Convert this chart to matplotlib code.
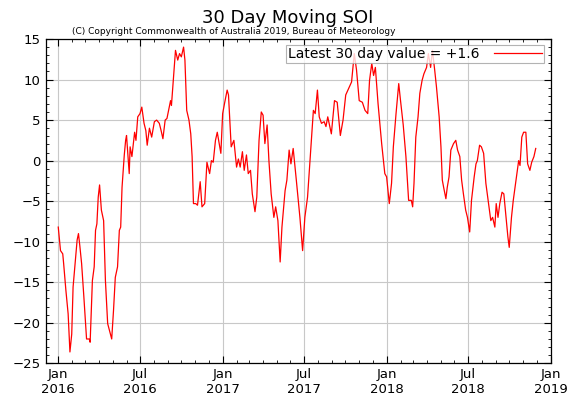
import numpy as np
import matplotlib
matplotlib.use("Agg")
import matplotlib.pyplot as plt
import matplotlib.dates as mdates
from matplotlib.ticker import MultipleLocator

# days since 2016-01-01, 30-day SOI value
days = [0, 5, 10, 12, 17, 22, 26, 30, 33, 38, 42, 45, 48, 52, 57, 63, 69, 71, 76, 80,
        83, 86, 89, 92, 96, 101, 105, 110, 116, 119, 123, 127, 132, 136, 139, 142, 147, 150, 152, 158,
        160, 164, 170, 173, 177, 182, 186, 191, 195, 198, 203, 208, 214, 219, 225, 229, 233, 238, 242, 247,
        250, 252, 256, 259, 261, 266, 270, 274, 279, 282, 286, 291, 295, 298, 301, 306, 310, 316, 320, 326,
        331, 337, 341, 345, 350, 354, 362, 366, 370, 376, 379, 385, 391, 397, 401, 405, 410, 414, 419, 423,
        428, 432, 438, 442, 447, 452, 456, 460, 465, 469, 474, 480, 484, 489, 494, 498, 505, 509, 514, 518,
        523, 530, 538, 544, 549, 555, 562, 568, 572, 577, 581, 586, 592, 596, 600, 608, 615, 621, 628, 634,
        640, 648, 653, 659, 664, 670, 677, 683, 689, 693, 698, 702, 706, 712, 720, 727, 731, 737, 742, 746,
        752, 758, 762, 768, 774, 780, 786, 789, 792, 796, 801, 805, 810, 814, 820, 824, 829, 833, 838, 842,
        848, 852, 855, 858, 863, 866, 870, 874, 880, 885, 889, 894, 898, 902, 907, 911, 916, 920, 926, 930,
        933, 938, 942, 947, 952, 958, 963, 967, 972, 975, 979, 983, 988, 992, 997, 1001, 1004, 1009, 1013, 1019,
        1025, 1028, 1032, 1036, 1041, 1045, 1050, 1054, 1059, 1063]
soi = [-8.2, -11.1, -11.5, -12.7, -16.0, -18.9, -23.6, -21.4, -15.6, -12.3, -9.8, -9.0, -10.5, -12.7, -16.8, -22.0, -22.0, -22.4, -14.8, -13.1,
       -8.6, -7.8, -4.5, -3.0, -6.1, -7.4, -14.8, -20.1, -21.4, -22.0, -18.5, -14.4, -13.1, -8.6, -8.2, -3.3, 0.7, 2.5, 3.1, -1.6,
       1.7, 0.5, 3.5, 2.5, 5.4, 5.8, 6.6, 4.6, 3.7, 1.9, 4.0, 2.9, 4.8, 5.0, 4.6, 3.7, 2.7, 5.0, 5.2, 6.6,
       7.4, 6.8, 9.9, 12.4, 13.6, 12.4, 13.2, 12.8, 14.0, 12.4, 6.2, 5.0, 3.3, 0.5, -5.3, -5.3, -5.5, -2.6, -5.7, -5.3,
       -0.2, -1.6, 0.0, -0.2, 2.5, 3.5, 0.9, 5.8, 7.0, 8.7, 8.1, 1.7, 2.5, -0.8, 0.2, -0.8, 1.1, -1.2, 0.7, -1.6,
       -1.2, -4.1, -6.3, -4.5, 2.5, 6.0, 5.6, 2.1, 4.4, 0.0, -4.1, -7.0, -5.7, -7.4, -12.5, -8.2, -3.7, -2.4, 1.3, -0.4,
       1.5, -2.4, -7.0, -11.1, -7.0, -4.5, 1.3, 6.2, 5.8, 8.7, 5.4, 4.6, 4.8, 4.2, 5.4, 3.3, 7.4, 7.2, 3.1, 5.0,
       8.1, 9.1, 9.7, 13.2, 11.2, 7.4, 7.2, 6.2, 5.8, 9.9, 12.0, 10.5, 11.5, 7.0, 2.1, -1.6, -2.0, -5.3, -2.8, 1.7,
       5.8, 9.5, 7.4, 4.4, 0.5, -4.9, -4.9, -5.7, -2.8, 2.9, 5.4, 8.3, 9.9, 10.7, 11.5, 13.2, 11.5, 13.6, 11.2, 9.1,
       5.4, 1.7, -2.4, -3.3, -4.7, -3.3, -2.0, 1.3, 2.1, 2.5, 1.3, 0.5, -2.4, -4.1, -6.1, -7.0, -8.8, -4.9, -2.0, -0.4,
       0.0, 1.9, 1.7, 0.9, -2.8, -5.3, -7.4, -7.0, -8.2, -5.3, -7.0, -5.3, -3.9, -4.1, -7.0, -9.4, -10.7, -7.0, -4.9, -2.4,
       0.0, -0.6, 2.9, 3.5, 3.5, -0.4, -1.2, -0.2, 0.5, 1.5]
latest = "+1.6"

dates = np.datetime64("2016-01-01") + np.array(days).astype("timedelta64[D]")

fig = plt.figure(figsize=(5.76, 4.03), dpi=100)
ax = fig.add_axes([0.0793, 0.0985, 0.8773, 0.8047])

ax.plot(dates, soi, color="red", lw=0.9, label=f"Latest 30 day value = {latest}")
ax.axhline(0, color="#808080", lw=0.8, zorder=1)

ax.set_ylim(-25, 15)
ax.set_xlim(np.datetime64("2015-12-04"), np.datetime64("2019-01-02"))
ax.yaxis.set_major_locator(MultipleLocator(5))
ax.yaxis.set_minor_locator(MultipleLocator(1))
ax.xaxis.set_major_locator(mdates.MonthLocator(bymonth=[1, 7]))
ax.xaxis.set_minor_locator(mdates.MonthLocator())
ax.xaxis.set_major_formatter(mdates.DateFormatter("%b\n%Y"))
ax.grid(True, which="major", color="#c8c8c8", lw=0.8)
ax.tick_params(which="both", direction="in", top=True, right=True, labelsize=9.5)
ax.tick_params(which="major", length=5)
ax.tick_params(which="minor", length=2.5)
for s in ax.spines.values():
    s.set_linewidth(0.9)

fig.text(0.5, 0.955, "30 Day Moving SOI", ha="center", va="center", fontsize=13)
fig.text(0.125, 0.923, "(C) Copyright Commonwealth of Australia 2019, Bureau of Meteorology",
         ha="left", va="center", fontsize=6.5)
leg = ax.legend(loc="upper right", bbox_to_anchor=(0.995, 0.995), fontsize=10, frameon=True,
                fancybox=False, borderpad=0.15, handlelength=3.5, markerfirst=False,
                borderaxespad=0.3, handletextpad=1.0)
leg.get_frame().set_edgecolor("#a0a0a0")
leg.get_frame().set_linewidth(0.8)
leg._legend_box.align = "right"

fig.savefig("out.png", dpi=100)
